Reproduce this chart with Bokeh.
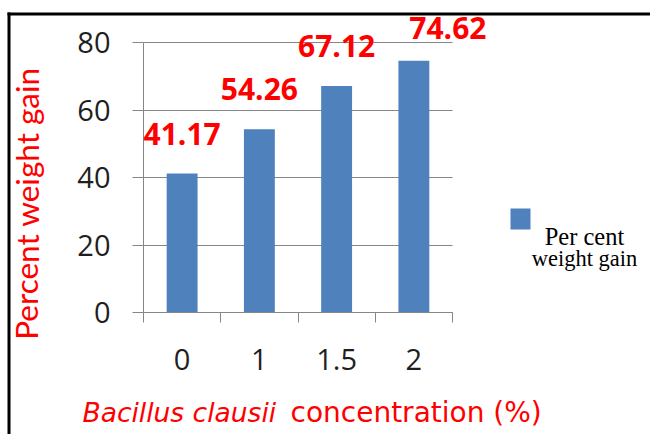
from bokeh.plotting import figure
from bokeh.models import (ColumnDataSource, Range1d, FixedTicker, LabelSet,
                          Label, BoxAnnotation, LinearAxis)
from bokeh.core.properties import value
from bokeh.embed import file_html
from bokeh.resources import INLINE

# --- data ---------------------------------------------------------------
concentrations = ["0", "1", "1.5", "2"]
weight_gain = [41.17, 54.26, 67.12, 74.62]
y_ticks = [0, 20, 40, 60, 80]

# pixel nudges for the value labels (style only)
label_dx = [0, 0, 0, 34]
label_dy = [29, 29, 29, 22]

# --- geometry -----------------------------------------------------------
W, H = 650, 434
PL, PR, PT, PB = 143, 452, 42, 312   # plotting area edges in canvas pixels

BAR = "#4F81BD"
GRID = "#868686"
RED = "#FF0000"
SANS = "Open Sans"

n = len(concentrations)
y_max = y_ticks[-1]

# the frame fills the whole canvas; ranges are padded so the plotting
# area sits at PL..PR / PT..PB and the axes are pinned at x=0 / y=0
px_per_x = (PR - PL) / n
px_per_y = (PB - PT) / y_max
x_range = Range1d(-PL / px_per_x, (W - PL) / px_per_x)
y_range = Range1d(-(H - PB) / px_per_y, y_max + PT / px_per_y)


def sx(x):
    return x


def sy(y):
    return H - y


p = figure(width=W, height=H, output_backend="svg", toolbar_location=None,
           x_range=x_range, y_range=y_range, x_axis_location=None,
           y_axis_location=None, min_border=0)
p.outline_line_color = None
p.background_fill_color = "white"
p.border_fill_color = "white"

src = ColumnDataSource(dict(
    x=[i + 0.5 for i in range(n)],
    top=weight_gain,
    text=[f"{v:.2f}" for v in weight_gain],
    dx=label_dx,
    dy=label_dy,
))

# y axis pinned at x = 0
yaxis = LinearAxis(fixed_location=0, bounds=(0, y_max),
                   ticker=FixedTicker(ticks=y_ticks))
yaxis.axis_line_color = GRID
yaxis.major_tick_line_color = GRID
yaxis.major_tick_out = 11
yaxis.major_tick_in = 0
yaxis.minor_tick_line_color = None
yaxis.major_label_standoff = 22
yaxis.major_label_text_font = SANS
yaxis.major_label_text_font_size = "29px"
yaxis.major_label_text_color = "#1f1f1f"
p.add_layout(yaxis, "left")

# x axis pinned at y = 0: labels at bar centres, ticks on category boundaries
centres = [i + 0.5 for i in range(n)]
xaxis = LinearAxis(fixed_location=0, bounds=(0, n),
                   ticker=FixedTicker(ticks=centres, minor_ticks=list(range(n + 1))))
xaxis.major_label_overrides = {c: lab for c, lab in zip(centres, concentrations)}
xaxis.axis_line_color = GRID
xaxis.major_tick_line_color = None
xaxis.major_tick_out = 0
xaxis.major_tick_in = 0
xaxis.minor_tick_line_color = GRID
xaxis.minor_tick_out = 10
xaxis.minor_tick_in = 0
xaxis.major_label_standoff = 26
xaxis.major_label_text_font = SANS
xaxis.major_label_text_font_size = "29px"
xaxis.major_label_text_color = "#1f1f1f"
p.add_layout(xaxis, "below")

p.xgrid.visible = False
p.ygrid.ticker = FixedTicker(ticks=y_ticks)
p.ygrid.bounds = (0, y_max)
p.ygrid.cross_bounds = (0, n)
p.ygrid.grid_line_color = GRID

p.vbar(x="x", top="top", bottom=0, width=0.4, source=src,
       fill_color=BAR, line_color=None)

p.add_layout(LabelSet(x="x", y="top", text="text", x_offset="dx", y_offset="dy",
                      source=src, text_align="center", text_baseline="alphabetic",
                      text_color=RED, text_font=value(SANS),
                      text_font_size="30px", text_font_style="bold"))

# axis titles
p.add_layout(Label(x=sx(26), y=sy(203), x_units="screen", y_units="screen",
                   text="Percent weight gain", angle=1.5707963, text_align="center",
                   text_baseline="alphabetic", text_color=RED,
                   text_font="Lato", text_font_size="31.5px"))
p.add_layout(Label(x=sx(82), y=sy(412), x_units="screen", y_units="screen",
                   text="Bacillus clausii", text_align="left",
                   text_baseline="alphabetic", text_color=RED,
                   text_font="DejaVu Sans", text_font_size="26.5px",
                   text_font_style="italic"))
p.add_layout(Label(x=sx(290), y=sy(412), x_units="screen", y_units="screen",
                   text="concentration (%)", text_align="left",
                   text_baseline="alphabetic", text_color=RED,
                   text_font="DejaVu Sans", text_font_size="28px"))

# legend
p.add_layout(BoxAnnotation(left=sx(510), right=sx(530), top=sy(208), bottom=sy(229),
                           left_units="screen", right_units="screen",
                           top_units="screen", bottom_units="screen",
                           fill_color=BAR, fill_alpha=1, line_color=None))
p.add_layout(Label(x=sx(584), y=sy(236), x_units="screen", y_units="screen",
                   text="Per cent", text_align="center", text_baseline="alphabetic",
                   text_color="black", text_font="Liberation Serif",
                   text_font_size="24.5px"))
p.add_layout(Label(x=sx(584), y=sy(258), x_units="screen", y_units="screen",
                   text="weight gain", text_align="center", text_baseline="alphabetic",
                   text_color="black", text_font="Liberation Serif",
                   text_font_size="22.5px"))

# black frame lines along the top and left edge
p.add_layout(BoxAnnotation(left=sx(7), right=sx(W), top=sy(12), bottom=sy(15),
                           left_units="screen", right_units="screen",
                           top_units="screen", bottom_units="screen",
                           fill_color="black", fill_alpha=1, line_color=None))
p.add_layout(BoxAnnotation(left=sx(7), right=sx(10), top=sy(12), bottom=sy(H),
                           left_units="screen", right_units="screen",
                           top_units="screen", bottom_units="screen",
                           fill_color="black", fill_alpha=1, line_color=None))

open("out.html", "w").write(file_html(p, INLINE))
